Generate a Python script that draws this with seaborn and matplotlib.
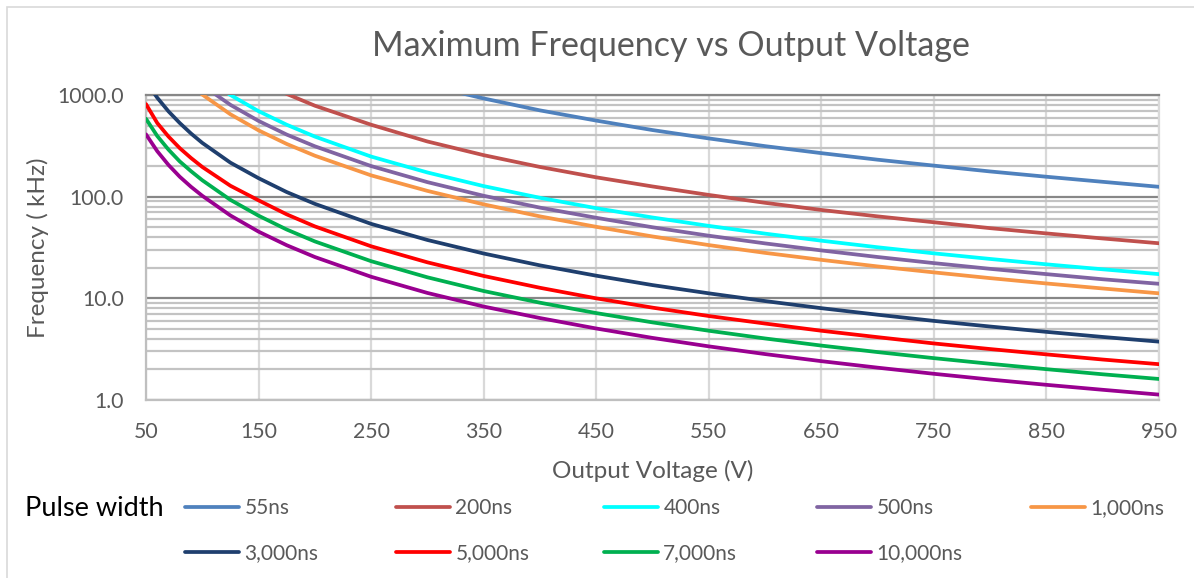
import numpy as np
import pandas as pd
import matplotlib
matplotlib.use("Agg")
import matplotlib.pyplot as plt
import matplotlib.ticker as mticker
from matplotlib.patches import Rectangle
import seaborn as sns

# ---------------- data ----------------
voltage = [50, 60, 70, 80, 90, 100, 125, 150, 175, 200, 250, 300, 350, 400,
           450, 500, 550, 600, 650, 700, 750, 800, 850, 900, 950]
nan = np.nan
f_55ns = [nan, nan, nan, nan, nan, nan, nan, nan, nan, nan, nan, 1250, 925, 706,
          560, 452, 374, 314, 268, 231, 202, 177, 157, 140, 125]
f_200ns = [nan, nan, nan, nan, nan, nan, nan, 1400, 1025, 785, 510, 349, 256, 196,
           155, 126, 104, 87, 74, 64, 56, 49, 43.5, 38.8, 34.8]
f_400ns = [nan, nan, nan, nan, nan, 1560, 1000, 693, 510, 390, 248, 173, 127, 97.5,
           77, 62.4, 51.6, 43.3, 36.9, 31.8, 27.7, 24.4, 21.6, 19.3, 17.3]
f_500ns = [nan, nan, nan, nan, nan, 1250, 800, 556, 408, 313, 200, 139, 102, 78,
           62, 50, 41.3, 34.7, 29.6, 25.5, 22.2, 19.5, 17.3, 15.4, 13.9]
f_1000ns = [nan, nan, nan, nan, 1247, 1010, 646, 449, 330, 253, 162, 114, 84, 64,
            50.5, 40.6, 33.4, 28, 23.9, 20.6, 18, 15.8, 14, 12.5, 11.2]
f_3000ns = [1352, 940, 690, 530, 418, 338, 216, 152, 111, 85, 54, 37.5, 27.6, 21.1,
            16.7, 13.5, 11.2, 9.4, 8.0, 6.9, 6.0, 5.28, 4.68, 4.17, 3.75]
f_5000ns = [813, 530, 390, 300, 240, 196, 128, 92, 67, 51, 32.5, 22.6, 16.6, 12.7,
            10.0, 8.1, 6.7, 5.65, 4.8, 4.15, 3.6, 3.17, 2.81, 2.5, 2.25]
f_7000ns = [583, 395, 290, 222, 178, 145, 93, 65, 47.5, 36.3, 23.2, 16.1, 11.8, 9.06,
            7.16, 5.8, 4.8, 4.03, 3.43, 2.96, 2.58, 2.27, 2.01, 1.79, 1.61]
f_10000ns = [410, 280, 205, 157, 125, 102, 65.3, 45.3, 33.3, 25.5, 16.3, 11.3, 8.3, 6.4,
             5.05, 4.08, 3.37, 2.83, 2.41, 2.08, 1.81, 1.59, 1.41, 1.26, 1.13]

series_labels = ["55ns", "200ns", "400ns", "500ns", "1,000ns",
                 "3,000ns", "5,000ns", "7,000ns", "10,000ns"]
series_values = [f_55ns, f_200ns, f_400ns, f_500ns, f_1000ns,
                 f_3000ns, f_5000ns, f_7000ns, f_10000ns]
colors = ["#4F81BD", "#C0504D", "#00FFFF", "#8064A2", "#F79646",
          "#1F3F6E", "#FF0000", "#00B050", "#990090"]

x_ticks = [50, 150, 250, 350, 450, 550, 650, 750, 850, 950]
y_ticks = [1, 10, 100, 1000]
y_tick_labels = ["1.0", "10.0", "100.0", "1000.0"]

rows = []
for lab, vals in zip(series_labels, series_values):
    for v, f in zip(voltage, vals):
        rows.append((v, f, lab))
df = pd.DataFrame(rows, columns=["voltage", "freq", "pulse"]).dropna()

# ---------------- style ----------------
sns.set_theme(style="white")
plt.rcParams["font.family"] = ["Lato", "DejaVu Sans"]
TXT = "#595959"
LW = 2.7

W, H = 1194, 578
fig = plt.figure(figsize=(W / 100, H / 100), dpi=100)
ax = fig.add_axes([146 / W, 1 - 400 / H, (1159 - 146) / W, (400 - 95) / H])

sns.lineplot(data=df, x="voltage", y="freq", hue="pulse", hue_order=series_labels,
             palette=colors, linewidth=LW, legend=False, ax=ax, zorder=3)
for ln in ax.lines:
    ln.set_solid_capstyle("round")

ax.set_yscale("log")
ax.set_xlim(50, 950)
ax.set_ylim(1, 1000)
ax.set_xticks(x_ticks)
ax.set_xticklabels([str(t) for t in x_ticks])
ax.yaxis.set_major_locator(mticker.FixedLocator(y_ticks))
ax.yaxis.set_major_formatter(mticker.FixedFormatter(y_tick_labels))
ax.yaxis.set_minor_locator(mticker.LogLocator(base=10, subs=np.arange(2, 10)))
ax.yaxis.set_minor_formatter(mticker.NullFormatter())

ax.grid(which="major", axis="y", color="#878787", linewidth=1.6, zorder=1)
ax.grid(which="minor", axis="y", color="#C3C3C3", linewidth=1.6, zorder=1)
ax.grid(which="major", axis="x", color="#D9D9D9", linewidth=1.6, zorder=1)
ax.set_axisbelow(True)

for side in ["left", "bottom"]:
    ax.spines[side].set_color("#BFBFBF")
    ax.spines[side].set_linewidth(1.6)
ax.spines["right"].set_color("#D9D9D9")
ax.spines["right"].set_linewidth(1.6)
ax.spines["top"].set_color("#878787")
ax.spines["top"].set_linewidth(1.6)

ax.tick_params(axis="both", which="both", length=0, colors=TXT, labelsize=15.3)
ax.tick_params(axis="y", pad=16)
ax.tick_params(axis="x", pad=15.5)

ax.set_xlabel("Output Voltage (V)", fontsize=17.5, color=TXT, labelpad=13)
ax.set_ylabel("Frequency ( kHz)", fontsize=17.5, color=TXT, labelpad=6)

fig.text(671 / W, 1 - 46 / H, "Maximum Frequency vs Output Voltage",
         ha="center", va="center", fontsize=24.5, color=TXT)

# legend
fig.text(25 / W, 1 - 508 / H, "Pulse width", ha="left", va="center",
         fontsize=19.5, color="black")
lines = ax.lines
col_x = [185, 396, 604, 817, 1031]
fs = 15
for i, cx in enumerate(col_x):
    idx = [i] + ([i + 5] if i + 5 < len(lines) else [])
    leg = fig.legend([lines[j] for j in idx], [series_labels[j] for j in idx],
                     loc="upper left", bbox_to_anchor=(cx / W, 1 - 498 / H),
                     frameon=False, fontsize=fs, borderpad=0, borderaxespad=0,
                     handlelength=2.6, handletextpad=0.25, labelspacing=1.2)
    for t in leg.get_texts():
        t.set_color(TXT)
    for h in leg.legend_handles:
        h.set_linewidth(LW)

# chart border
fig.add_artist(Rectangle((7 / W, -0.05), 1.2, 1 - 7 / H + 0.05,
                         transform=fig.transFigure, fill=False,
                         edgecolor="#D9D9D9", linewidth=1.2))

fig.savefig("out.png", dpi=100)
